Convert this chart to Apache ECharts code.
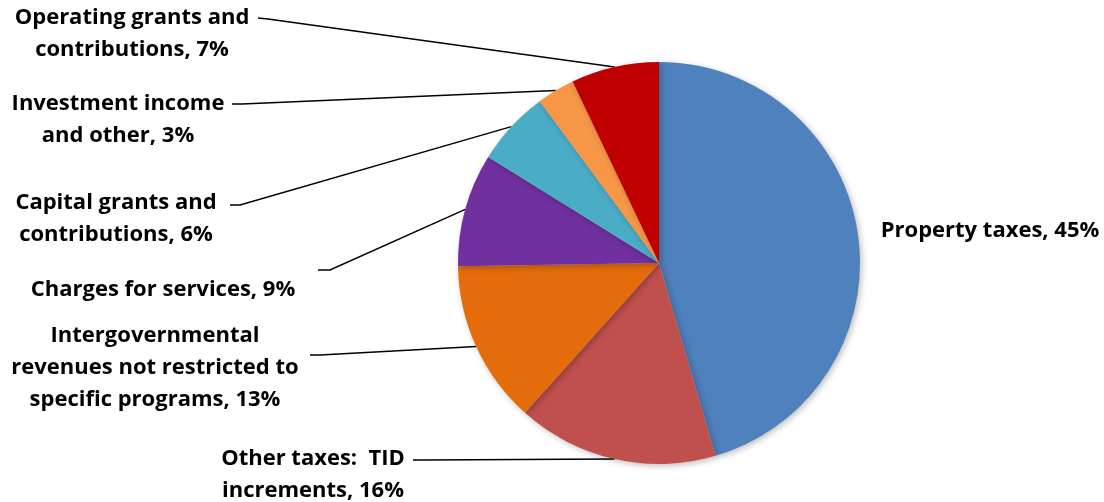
<!DOCTYPE html>
<html>
<head>
<meta charset="utf-8">
<script src="https://cdn.jsdelivr.net/npm/echarts@6/dist/echarts.min.js"></script>
<style>html,body{margin:0;padding:0;background:#fff}#c{width:1104px;height:502px}</style>
</head>
<body>
<div id="c"></div>
<script>
const categories = [
  'Property taxes',
  'Other taxes:  TID\nincrements',
  'Intergovernmental\nrevenues not restricted to\nspecific programs',
  'Charges for services',
  'Capital grants and\ncontributions',
  'Investment income\nand other',
  'Operating grants and\ncontributions'
];
const values = [45, 16, 13, 9, 6, 3, 7];
const colors = ['#4F81BD', '#C0504D', '#E46C0A', '#7030A0', '#4BACC6', '#F79646', '#C00000'];

// label anchor layout (pixels) and line end points
const labelPos = [
  {x: 990, y: 231, line: null},
  {x: 313, y: 475, line: [[424, 460], [413, 460]]},
  {x: 155, y: 368, line: [[320, 355], [310, 355]]},
  {x: 163, y: 290, line: [[330, 270], [318, 270]]},
  {x: 116, y: 219, line: [[240, 205], [230, 205]]},
  {x: 118, y: 120, line: [[242, 104], [232, 104]]},
  {x: 132, y: 34,  line: [[268, 19], [258, 18]]}
];

const cx = 659, cy = 263, R = 201;
const total = values.reduce((a, b) => a + b, 0);

const chart = echarts.init(document.getElementById('c'));
chart.setOption({
  animation: false,
  series: [{
    type: 'pie',
    center: [cx, cy],
    radius: R,
    startAngle: 90,
    clockwise: true,
    avoidLabelOverlap: false,
    data: categories.map((n, i) => ({name: n, value: values[i], itemStyle: {color: colors[i]}})),
    itemStyle: {
      borderWidth: 0,
      shadowBlur: 6,
      shadowColor: 'rgba(0,0,0,0.25)',
      shadowOffsetX: 2,
      shadowOffsetY: 2
    },
    label: {
      show: true,
      position: 'outside',
      formatter: '{b}, {c}%',
      color: '#000',
      fontFamily: 'Open Sans',
      fontWeight: 'bold',
      fontSize: 22,
      lineHeight: 32,
      align: 'center'
    },
    labelLine: {
      show: true,
      lineStyle: {color: '#000', width: 1.5}
    },
    labelLayout: function (params) {
      const i = params.dataIndex;
      const p = labelPos[i];
      const res = {x: p.x, y: p.y, align: 'center', verticalAlign: 'middle'};
      let before = 0;
      for (let k = 0; k < i; k++) before += values[k];
      const mid = (before + values[i] / 2) / total * 2 * Math.PI;
      const ex = cx + R * Math.sin(mid), ey = cy - R * Math.cos(mid);
      if (p.line) {
        res.labelLinePoints = [[ex, ey], p.line[0], p.line[1]];
      } else {
        res.labelLinePoints = [[ex, ey], [ex, ey], [ex, ey]];
      }
      return res;
    }
  }]
});
</script>
</body>
</html>
